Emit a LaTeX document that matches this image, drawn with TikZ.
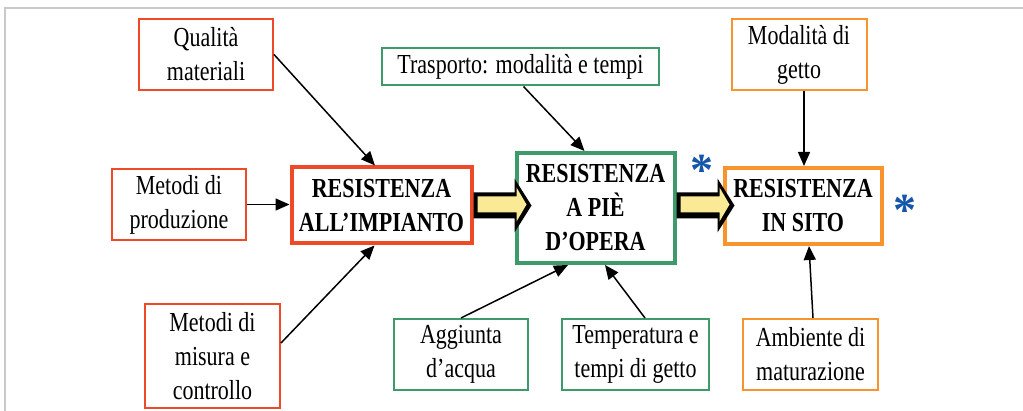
\documentclass[tikz,border=0pt]{standalone}
\usepackage{fontspec}
\setmainfont{Liberation Serif}[FakeStretch=0.8]
\newfontfamily\starfont{Liberation Serif}
\usetikzlibrary{arrows.meta}
\definecolor{cred}{RGB}{239,74,40}
\definecolor{cgreen}{RGB}{62,154,106}
\definecolor{corange}{RGB}{247,148,46}
\definecolor{cyel}{RGB}{250,234,150}
\definecolor{cblue}{RGB}{22,86,170}
\definecolor{cframe}{RGB}{200,200,205}
\tikzset{
 txt/.style={font=\fontsize{27.5}{34}\selectfont, align=center, inner sep=0pt, fill=white},
 thinbox/.style={txt, draw, line width=2pt},
 mainbox/.style={txt, draw, line width=4pt, font=\fontsize{27.5}{34}\selectfont\bfseries},
 conn/.style={line width=1.5pt, -{Triangle[length=14pt,width=12pt]}},
 star/.style={text=cblue, inner sep=0pt, font=\starfont\bfseries\fontsize{46}{46}\selectfont},
 bigarrow/.pic={
  \fill[black] (0,-13) -- (41,-13) -- (41,-27) -- (58,0) -- (41,27) -- (41,13) -- (0,13) -- cycle;
  \fill[cyel] (4,-9) -- (43,-9) -- (43,-18) -- (53,-1) -- (43,16) -- (43,7) -- (4,7) -- cycle;
 }
}
\begin{document}
\begin{tikzpicture}[x=1pt,y=-1pt]
\useasboundingbox (0,0) rectangle (1023,411);
\fill[white] (0,0) rectangle (1023,411);
\draw[cframe, line width=2.5pt] (1023,8) -- (5,8) -- (5,411);

\node[thinbox, draw=cred, minimum width=134pt, minimum height=71pt] (qual) at (206,54.5) {Qualità\\materiali};
\node[thinbox, draw=cred, minimum width=134pt, minimum height=71pt] (prod) at (179,204.5) {Metodi di\\produzione};
\node[thinbox, draw=cred, minimum width=135pt, minimum height=104pt] (mis) at (212.5,356) {Metodi di\\misura e\\controllo};
\node[mainbox, draw=cred, minimum width=180pt, minimum height=76pt] (imp) at (381.5,205.5) {RESISTENZA\\ALL’IMPIANTO};

\node[thinbox, draw=cgreen, minimum width=277pt, minimum height=37pt] (tras) at (520.5,67) {Trasporto: modalità e tempi};
\node[mainbox, draw=cgreen, minimum width=158pt, minimum height=110pt] (pie) at (595.5,208) {RESISTENZA\\A PIÈ\\D’OPERA};
\node[thinbox, draw=cgreen, minimum width=134pt, minimum height=71pt] (agg) at (461,354.5) {Aggiunta\\d’acqua};
\node[thinbox, draw=cgreen, minimum width=147pt, minimum height=71pt] (temp) at (635.5,354.5) {Temperatura e\\tempi di getto};

\node[thinbox, draw=corange, minimum width=135pt, minimum height=71pt] (mod) at (799,54.5) {Modalità di\\getto};
\node[mainbox, draw=corange, minimum width=157pt, minimum height=76pt] (sito) at (803,206) {RESISTENZA\\IN SITO};
\node[thinbox, draw=corange, minimum width=135pt, minimum height=71pt] (amb) at (810.5,354.5) {Ambiente di\\maturazione};

\draw[conn] (qual.east) -- ([xshift=-6.5pt]imp.north);
\draw[conn] (prod.east) -- (prod.east -| imp.west);
\draw[conn] ([yshift=13pt]mis.east) -- ([xshift=-7pt]imp.south);
\draw[conn] ([xshift=3pt]tras.south) -- ([xshift=-11pt]pie.north);
\draw[conn] (agg.north) -- ([xshift=-27.5pt]pie.south);
\draw[conn] ([xshift=9.5pt]temp.north) -- ([xshift=9.5pt]pie.south);
\draw[conn] ([xshift=5pt]mod.south) -- ([xshift=1pt]sito.north);
\draw[conn] ([xshift=2.5pt]amb.north) -- ([xshift=6pt]sito.south);

\pic at (imp.east) {bigarrow};
\pic at (pie.east |- imp.east) {bigarrow};

\node[star] (s1) at (702,170) {*};
\node[star] (s2) at (905,210) {*};
\end{tikzpicture}
\end{document}
